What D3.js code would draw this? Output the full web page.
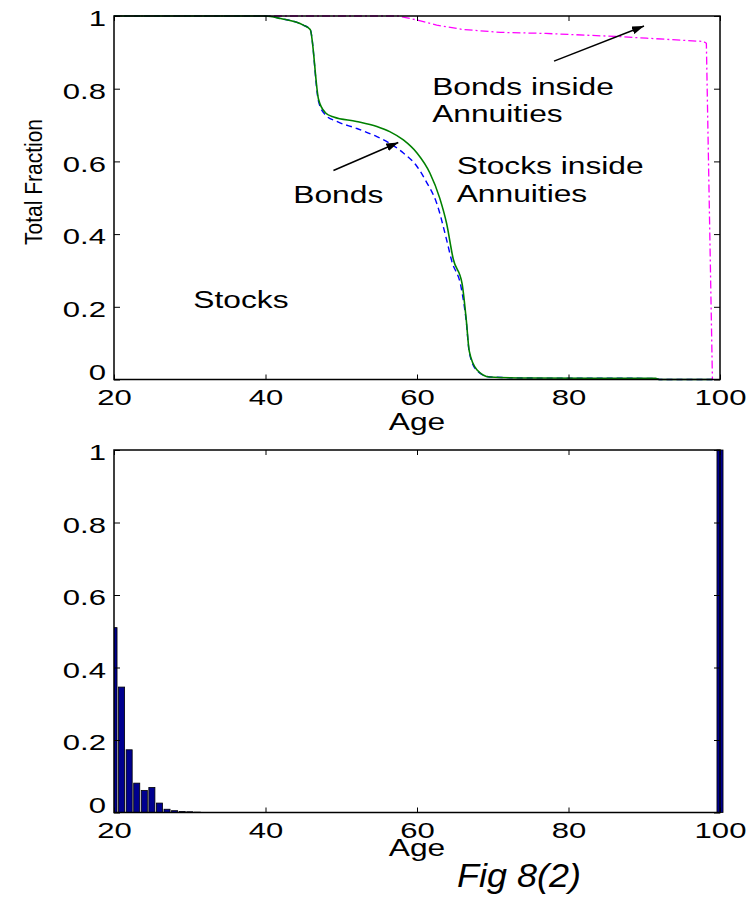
<!DOCTYPE html>
<html>
<head>
<meta charset="utf-8">
<script src="https://cdn.jsdelivr.net/npm/d3@7"></script>
<style>
  html, body { margin: 0; padding: 0; background: #fff; }
  svg { display: block; font-family: "Liberation Sans", Arial, Helvetica, sans-serif; }
</style>
</head>
<body>
<svg id="fig" width="754" height="898"></svg>
<script>
// ---- data -------------------------------------------------------------
// Upper panel: cumulative fractions by age
const stockAges = [20, 40, 42, 45, 45.9, 47, 47.9, 49, 52, 54.7, 56.4, 58.2, 60, 61.7, 63, 63.9, 64.8, 65.95, 66.5, 66.9, 67.9, 69.6, 75, 91.5, 92, 99];
const stockVals = [1, 1, 0.993, 0.975, 0.963, 0.771, 0.734, 0.722, 0.710, 0.696, 0.682, 0.659, 0.623, 0.568, 0.499, 0.430, 0.330, 0.264, 0.165, 0.078, 0.027, 0.007, 0.004, 0.003, 0, 0];

const bondAges = [20, 40, 42, 45, 45.9, 47, 47.9, 49.4, 52, 54.7, 56.4, 58.2, 60, 61.2, 62.6, 63.9, 64.6, 65.8, 66.5, 66.9, 67.9, 69.6, 75, 91.5, 92, 99];
const bondVals = [1, 1, 0.993, 0.975, 0.963, 0.765, 0.728, 0.710, 0.691, 0.668, 0.650, 0.623, 0.586, 0.545, 0.485, 0.385, 0.325, 0.256, 0.160, 0.075, 0.025, 0.007, 0.004, 0.003, 0, 0];

const annuityAges = [20, 57.5, 60, 62.6, 66, 68, 71, 77, 87, 90.3, 97.8, 98.2, 99];
const annuityVals = [1, 1, 0.989, 0.975, 0.963, 0.960, 0.955, 0.952, 0.943, 0.939, 0.930, 0.925, 0];

// Lower panel: distribution by age
const histAges = [20, 21, 22, 23, 24, 25, 26, 27, 28, 29, 30, 31, 100];
const histVals = [0.51, 0.346, 0.173, 0.081, 0.061, 0.069, 0.026, 0.009, 0.005, 0.003, 0.002, 0.001, 1];

// Axis ticks
const ageTicks = [20, 40, 60, 80, 100];
const fracTicks = [0, 0.2, 0.4, 0.6, 0.8, 1];
const fracLabels = ["0", "0.2", "0.4", "0.6", "0.8", "1"];

// Annotations (age, fraction at text baseline)
const labelText = [
  { lines: ["Bonds inside", "Annuities"], age: 62, frac: 0.783 },
  { lines: ["Stocks inside", "Annuities"], age: 65.24, frac: 0.565 },
  { lines: ["Bonds"], age: 43.67, frac: 0.485 },
  { lines: ["Stocks"], age: 30.47, frac: 0.197 }
];
const arrows = [
  { from: [48.97, 0.575], to: [57.53, 0.652] },
  { from: [78.09, 0.876], to: [89.97, 0.9725] }
];

// ---- layout -------------------------------------------------------------
const svg = d3.select("#fig");
const STRETCH = 1.38;     // wide glyph aspect of the figure's lettering
const FONT = 22.5;
const left = 114, right = 720;
const topPanel = { top: 16, bottom: 379.5 };
const lowPanel = { top: 450, bottom: 812.5 };

const x = d3.scaleLinear().domain([20, 100]).range([left, right]);
const yTop = d3.scaleLinear().domain([0, 1]).range([topPanel.bottom, topPanel.top]);
const yLow = d3.scaleLinear().domain([0, 1]).range([lowPanel.bottom, lowPanel.top]);

svg.append("rect").attr("width", 754).attr("height", 898).attr("fill", "#fff");

const defs = svg.append("defs");
defs.append("marker")
  .attr("id", "arrowhead")
  .attr("viewBox", "0 0 12 8")
  .attr("refX", 12).attr("refY", 4)
  .attr("markerWidth", 12).attr("markerHeight", 8)
  .attr("markerUnits", "userSpaceOnUse")
  .attr("orient", "auto")
  .append("path").attr("d", "M0,0 L12,4 L0,8 Z").attr("fill", "#000");

defs.append("clipPath").attr("id", "lowClip")
  .append("rect")
  .attr("x", left).attr("y", lowPanel.top - 2)
  .attr("width", right - left + 20).attr("height", lowPanel.bottom - lowPanel.top + 4);

function stretchText(sel) {
  sel.each(function () {
    const t = d3.select(this);
    const tx = +(t.attr("x") || 0);
    t.attr("x", tx / STRETCH).attr("transform", `scale(${STRETCH},1)`);
  });
}

function drawAxes(y, panel) {
  const g = svg.append("g");
  // bottom
  const bx = g.append("g").attr("transform", `translate(0,${panel.bottom})`)
    .call(d3.axisBottom(x).tickValues(ageTicks).tickFormat(d3.format("d"))
      .tickSizeInner(-5).tickSizeOuter(0).tickPadding(9.4));
  // top (mirrored ticks)
  g.append("g").attr("transform", `translate(0,${panel.top})`)
    .call(d3.axisTop(x).tickValues(ageTicks).tickFormat("")
      .tickSizeInner(-5).tickSizeOuter(0));
  // left
  const lx = g.append("g").attr("transform", `translate(${left},0)`)
    .call(d3.axisLeft(y).tickValues(fracTicks).tickFormat((d, i) => fracLabels[i])
      .tickSizeInner(-6).tickSizeOuter(0).tickPadding(8));
  // right (mirrored ticks)
  g.append("g").attr("transform", `translate(${right},0)`)
    .call(d3.axisRight(y).tickValues(fracTicks).tickFormat("")
      .tickSizeInner(-6).tickSizeOuter(0));

  g.selectAll(".domain").remove();
  g.selectAll(".tick line").attr("stroke", "#000").attr("stroke-width", 1);
  g.selectAll("text").attr("font-size", FONT).attr("font-family", null).attr("fill", "#000");
  lx.selectAll("text").attr("dy", "0.43em")
    .filter(d => d === 0).attr("dy", "0.02em");
  stretchText(bx.selectAll("text"));
  stretchText(lx.selectAll("text"));

  g.append("rect")
    .attr("x", left).attr("y", panel.top)
    .attr("width", right - left).attr("height", panel.bottom - panel.top)
    .attr("fill", "none").attr("stroke", "#000").attr("stroke-width", 1.5);
  return g;
}

function stretchedLabel(px, py, str, opts = {}) {
  const s = opts.stretch || STRETCH;
  return svg.append("text")
    .attr("transform", `translate(${px},${py}) scale(${s},1)`)
    .attr("font-size", opts.size || FONT)
    .attr("font-style", opts.italic ? "italic" : null)
    .attr("text-anchor", opts.anchor || "start")
    .attr("fill", "#000")
    .text(str);
}

// ---- upper panel --------------------------------------------------------
const zipPts = (a, b) => a.map((v, i) => [v, b[i]]);
const straight = d3.line().x(d => x(d[0])).y(d => yTop(d[1])).curve(d3.curveLinear);
const smooth = d3.line().x(d => x(d[0])).y(d => yTop(d[1])).curve(d3.curveMonotoneX);

svg.append("path")
  .datum(zipPts(annuityAges, annuityVals))
  .attr("d", straight)
  .attr("fill", "none").attr("stroke", "#ff00ff").attr("stroke-width", 1.3)
  .attr("stroke-dasharray", "8,3,2,3");

svg.append("path")
  .datum(zipPts(bondAges, bondVals))
  .attr("d", smooth)
  .attr("fill", "none").attr("stroke", "#0000ff").attr("stroke-width", 1.4)
  .attr("stroke-dasharray", "6,4");

svg.append("path")
  .datum(zipPts(stockAges, stockVals))
  .attr("d", smooth)
  .attr("fill", "none").attr("stroke", "#008000").attr("stroke-width", 1.6);

drawAxes(yTop, topPanel);

labelText.forEach(l => {
  l.lines.forEach((str, i) => {
    stretchedLabel(x(l.age), yTop(l.frac) + i * 27.5, str, { size: 23 });
  });
});

arrows.forEach(a => {
  svg.append("line")
    .attr("x1", x(a.from[0])).attr("y1", yTop(a.from[1]))
    .attr("x2", x(a.to[0])).attr("y2", yTop(a.to[1]))
    .attr("stroke", "#000").attr("stroke-width", 1.5)
    .attr("marker-end", "url(#arrowhead)");
});

stretchedLabel((left + right) / 2, 430, "Age", { size: 23, anchor: "middle" });

svg.append("text")
  .attr("transform", "translate(41.5,182) rotate(-90) scale(1,1.1)")
  .attr("font-size", 21)
  .attr("text-anchor", "middle")
  .attr("fill", "#000")
  .text("Total Fraction");

// ---- lower panel --------------------------------------------------------
const barW = 0.8 * (x(21) - x(20));
svg.append("g").attr("clip-path", "url(#lowClip)")
  .selectAll("rect")
  .data(zipPts(histAges, histVals))
  .join("rect")
  .attr("x", d => x(d[0]) - barW / 2)
  .attr("y", d => yLow(d[1]))
  .attr("width", barW)
  .attr("height", d => yLow(0) - yLow(d[1]))
  .attr("fill", "#00008f")
  .attr("stroke", "#000").attr("stroke-width", 0.8);

drawAxes(yLow, lowPanel);

stretchedLabel((left + right) / 2, 856, "Age", { size: 23, anchor: "middle" });
stretchedLabel(457, 887, "Fig 8(2)", { size: 33, italic: true, stretch: 1.09 });
</script>
</body>
</html>
